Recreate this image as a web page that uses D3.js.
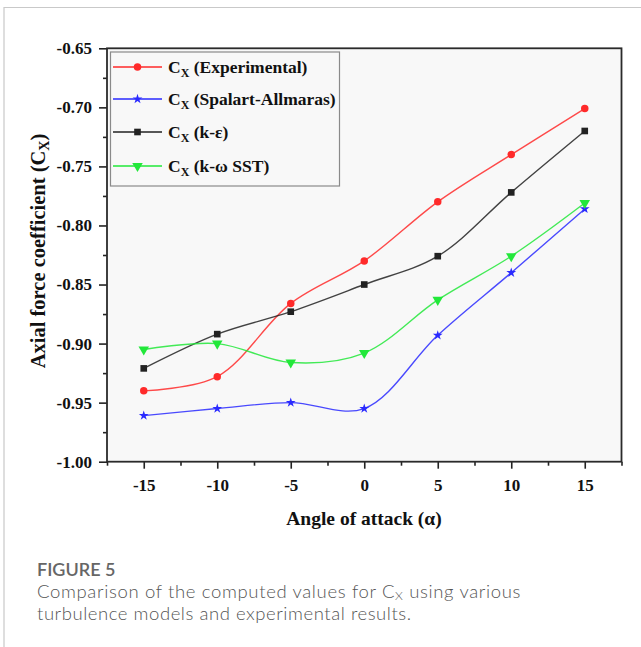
<!DOCTYPE html>
<html>
<head>
<meta charset="utf-8">
<script src="https://cdn.jsdelivr.net/npm/d3@7/dist/d3.min.js"></script>
<style>
  html, body { margin: 0; padding: 0; background: #fff; }
  svg { display: block; }
</style>
</head>
<body>
<svg id="chart" width="641" height="647"></svg>
<script>
// Angle of attack (degrees)
const angles = [-15, -10, -5, 0, 5, 10, 15];

// Axial force coefficient per method
const experimental    = [-0.940, -0.928, -0.866, -0.830, -0.780, -0.740, -0.701];
const spalartAllmaras = [-0.961, -0.955, -0.950, -0.955, -0.893, -0.840, -0.786];
const kEpsilon        = [-0.921, -0.892, -0.873, -0.850, -0.826, -0.772, -0.720];
const kOmegaSST       = [-0.905, -0.900, -0.916, -0.908, -0.863, -0.826, -0.781];

const xTicks = [-15, -10, -5, 0, 5, 10, 15];
const yTicks = [-0.65, -0.70, -0.75, -0.80, -0.85, -0.90, -0.95, -1.00];

const seriesList = [
  { name: "Experimental",     values: experimental,    color: "#ff2a2a", marker: "circle" },
  { name: "Spalart-Allmaras", values: spalartAllmaras, color: "#2a2aff", marker: "star" },
  { name: "k-ε",              values: kEpsilon,        color: "#222222", marker: "square" },
  { name: "k-ω SST",          values: kOmegaSST,       color: "#22e83a", marker: "triangle" }
];

const svg = d3.select("#chart");
const W = 641, H = 647;

// Card frame
svg.append("path")
  .attr("d", `M4,${H} L4,7.5 L${W},7.5`)
  .attr("fill", "none").attr("stroke", "#c9c9c9").attr("stroke-width", 1.2);

const plot = { left: 107, right: 621.5, top: 48.3, bottom: 461.7 };

const x = d3.scaleLinear().domain([-17.5, 17.5]).range([plot.left, plot.right]);
const y = d3.scaleLinear().domain([-1.0, -0.65]).range([plot.bottom, plot.top]);

// Plot background
svg.append("rect")
  .attr("x", plot.left).attr("y", plot.top)
  .attr("width", plot.right - plot.left).attr("height", plot.bottom - plot.top)
  .attr("fill", "#f8f8f8");

const serif = "'Liberation Serif', 'Times New Roman', serif";

// Bottom axis: major ticks with labels plus minor ticks
const xAxis = d3.axisBottom(x).tickValues(xTicks).tickSize(7).tickSizeOuter(0)
  .tickFormat(d3.format("d"));
const xMinor = d3.axisBottom(x).tickValues(d3.range(-17.5, 17.6, 5)).tickSize(4)
  .tickSizeOuter(0).tickFormat("");
const gxMinor = svg.append("g").attr("transform", `translate(0,${plot.bottom})`).call(xMinor);
const gx = svg.append("g").attr("transform", `translate(0,${plot.bottom})`).call(xAxis);

// Left axis
const yAxis = d3.axisLeft(y).tickValues(yTicks).tickSize(8).tickSizeOuter(0)
  .tickFormat(d3.format(".2f"));
const yMinor = d3.axisLeft(y).tickValues(d3.range(-0.975, -0.65, 0.05)).tickSize(4)
  .tickSizeOuter(0).tickFormat("");
const gyMinor = svg.append("g").attr("transform", `translate(${plot.left},0)`).call(yMinor);
const gy = svg.append("g").attr("transform", `translate(${plot.left},0)`).call(yAxis);

[gx, gy, gxMinor, gyMinor].forEach(g => {
  g.selectAll(".domain").remove();
  g.selectAll(".tick line").attr("stroke", "#222").attr("stroke-width", 1.6);
});
gx.selectAll(".tick text")
  .attr("font-family", serif).attr("font-weight", "bold").attr("font-size", 17)
  .attr("fill", "#111").attr("dy", "0.71em").attr("y", 17)
  .text(d => d < 0 ? "-" + Math.abs(d) : d);
gy.selectAll(".tick text")
  .attr("font-family", serif).attr("font-weight", "bold").attr("font-size", 17)
  .attr("fill", "#111").attr("x", -15)
  .text(d => "-" + Math.abs(d).toFixed(2));

// Frame around the plot area
svg.append("rect")
  .attr("x", plot.left).attr("y", plot.top)
  .attr("width", plot.right - plot.left).attr("height", plot.bottom - plot.top)
  .attr("fill", "none").attr("stroke", "#2a2a2a").attr("stroke-width", 1.8);

// Marker shapes
const symbolFor = {
  circle:   d3.symbol().type(d3.symbolCircle).size(44),
  star:     d3.symbol().type(d3.symbolStar).size(30),
  square:   d3.symbol().type(d3.symbolSquare).size(44),
  triangle: d3.symbol().type(d3.symbolTriangle).size(48)
};
function drawMarker(g, s, cx, cy) {
  g.append("path")
    .attr("d", symbolFor[s.marker]())
    .attr("transform", `translate(${cx},${cy})` + (s.marker === "triangle" ? " rotate(180)" : ""))
    .attr("fill", s.color);
}

// Smoothed series lines
const line = d3.line()
  .x((d, i) => x(angles[i]))
  .y(d => y(d))
  .curve(d3.curveCatmullRom.alpha(0.5));

const gLines = svg.append("g");
seriesList.forEach(s => {
  gLines.append("path")
    .attr("d", line(s.values))
    .attr("fill", "none").attr("stroke", s.color).attr("stroke-width", 1.4)
    .attr("stroke-opacity", 0.85);
});
seriesList.forEach(s => {
  s.values.forEach((v, i) => drawMarker(gLines, s, x(angles[i]), y(v)));
});

// Legend
const legend = svg.append("g");
legend.append("rect")
  .attr("x", 110.5).attr("y", 52).attr("width", 229).attr("height", 134)
  .attr("fill", "#f8f8f8").attr("stroke", "#8a8a8a").attr("stroke-width", 1.2);
const rowY = [67, 99, 132, 166];
seriesList.forEach((s, i) => {
  const ry = rowY[i];
  legend.append("line")
    .attr("x1", 113).attr("x2", 162).attr("y1", ry).attr("y2", ry)
    .attr("stroke", s.color).attr("stroke-width", 1.4);
  drawMarker(legend, s, 137.5, ry);
  const t = legend.append("text")
    .attr("x", 168).attr("y", ry + 6)
    .attr("font-family", serif).attr("font-weight", "bold").attr("font-size", 17.5)
    .attr("fill", "#111");
  t.append("tspan").text("C");
  t.append("tspan").attr("font-size", 12).attr("dy", 4).text("X");
  t.append("tspan").attr("dy", -4).text(" (" + s.name + ")");
});

// Axis titles
svg.append("text")
  .attr("x", 364).attr("y", 525)
  .attr("text-anchor", "middle")
  .attr("font-family", serif).attr("font-weight", "bold").attr("font-size", 19.5)
  .attr("fill", "#111")
  .text("Angle of attack (α)");

const yt = svg.append("text")
  .attr("transform", `translate(45,${(plot.top + plot.bottom) / 2 - 4}) rotate(-90)`)
  .attr("text-anchor", "middle")
  .attr("font-family", serif).attr("font-weight", "bold").attr("font-size", 20.5)
  .attr("fill", "#111");
yt.append("tspan").text("Axial force coefficient (C");
yt.append("tspan").attr("font-size", 14).attr("dy", 4).text("X");
yt.append("tspan").attr("dy", -4).text(")");

// Caption
const capFont = "Lato, 'Open Sans', sans-serif";
svg.append("text")
  .attr("x", 37).attr("y", 576)
  .attr("font-family", capFont).attr("font-size", 18).attr("font-weight", 600).attr("fill", "#666")
  .text("FIGURE 5");
const c1 = svg.append("text")
  .attr("x", 37).attr("y", 598)
  .attr("font-family", capFont).attr("font-size", 18.5).attr("font-weight", 300).attr("fill", "#555")
  .attr("letter-spacing", 0.65);
c1.append("tspan").text("Comparison of the computed values for C");
c1.append("tspan").attr("font-size", 12.5).attr("dy", 2).text("X");
c1.append("tspan").attr("dy", -2).text(" using various");
svg.append("text")
  .attr("x", 37).attr("y", 620)
  .attr("font-family", capFont).attr("font-size", 18.5).attr("font-weight", 300).attr("fill", "#555")
  .attr("letter-spacing", 0.55)
  .text("turbulence models and experimental results.");
</script>
</body>
</html>
